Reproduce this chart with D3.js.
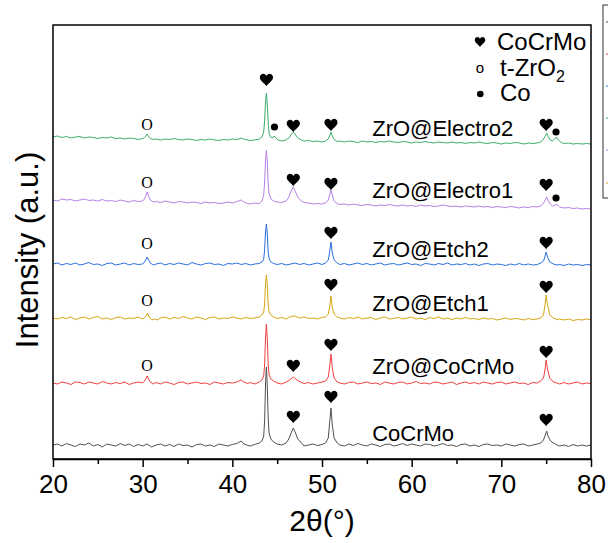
<!DOCTYPE html>
<html>
<head>
<meta charset="utf-8">
<script src="https://cdn.jsdelivr.net/npm/d3@7"></script>
<style>
  body { margin: 0; background: #fff; }
  svg { display: block; font-family: "Liberation Sans", Arial, sans-serif; }
</style>
</head>
<body>
<svg id="chart" width="608" height="543"></svg>
<script>
// XRD patterns, stacked with a vertical offset per sample

const THETA_TICKS = [20, 30, 40, 50, 60, 70, 80];
const MINOR_TICKS = [25, 35, 45, 55, 65, 75];
const SAMPLES = ["CoCrMo", "ZrO@CoCrMo", "ZrO@Etch1", "ZrO@Etch2", "ZrO@Electro1", "ZrO@Electro2"];
const OFFSETS = [14, 76, 141, 195, 259, 322];   // stacking offset (a.u.)

// [2θ, intensity above the sample's offset]
const CoCrMo = [[20,0],[20.5,1],[21,-1],[21.5,1.5],[22,0],[22.5,-1.5],[23,1],[23.5,0],[24,2],[24.5,-1],[25,0.5],[25.5,-2],[26,1],[26.5,0],[27,-1],[27.5,1.5],[28,-0.5],[28.5,1],[29,-1.5],[29.5,0.5],[30,-1],[30.5,1],[31,-2],[31.5,0],[32,1],[32.5,-1],[33,0.5],[33.5,-1.5],[34,1],[34.5,-0.5],[35,0],[35.5,-2],[36,0.5],[36.5,1],[37,-1],[37.5,0],[38,-1.5],[38.5,1],[39,0],[39.5,-1],[40,0.5],[40.5,1.5],[41,4],[41.3,1],[41.6,0],[42,-1],[42.5,0.5],[43,2],[43.3,4],[43.5,9],[43.6,24],[43.7,60],[43.8,78],[43.9,58],[44,26],[44.1,12],[44.3,6],[44.6,3],[45,1],[45.5,0],[46,2],[46.3,6],[46.6,13],[46.8,17],[47,13],[47.3,6],[47.7,2],[48,-1],[48.5,0],[49,1],[49.5,-0.5],[50,0.5],[50.4,2],[50.7,7],[50.85,22],[51,37],[51.15,20],[51.35,7],[51.7,2],[52,0],[52.5,-1],[53,1],[53.5,-0.5],[54,1.5],[54.5,0],[55,-1],[55.5,1],[56,0],[56.5,-1.5],[57,0.5],[57.5,1],[58,-1],[58.5,0],[59,1.5],[59.5,-0.5],[60,1],[60.5,0],[61,-1],[61.5,1],[62,0.5],[62.5,-1],[63,0],[63.5,1.5],[64,-0.5],[64.5,0],[65,-1.5],[65.5,0.5],[66,1],[66.5,-1],[67,0],[67.5,-1.5],[68,0.5],[68.5,1],[69,-0.5],[69.5,0],[70,-1],[70.5,1],[71,0],[71.5,-1],[72,0.5],[72.5,1],[73,-1],[73.5,0],[74,1],[74.4,2],[74.7,5],[74.9,10],[75.05,14],[75.2,9],[75.5,4],[76,1],[76.5,-1],[77,0],[77.5,-1.5],[78,0.5],[78.5,-1],[79,0],[79.5,-1],[80,0]];

const ZrO_CoCrMo = [[20,0],[20.5,-1],[21,1],[21.5,0],[22,-1.5],[22.5,1],[23,0.5],[23.5,-1],[24,1],[24.5,0],[25,-1],[25.5,1.5],[26,0],[26.5,-1],[27,0.5],[27.5,-0.5],[28,1],[28.5,-1.5],[29,0],[29.5,1],[30,0],[30.2,2],[30.35,4],[30.5,7],[30.65,4],[30.85,1],[31.2,-1],[31.5,0.5],[32,-1],[32.5,1],[33,0],[33.5,-1.5],[34,0.5],[34.5,1],[35,-1],[35.5,0],[36,1],[36.5,-0.5],[37,0],[37.5,-1.5],[38,1],[38.5,0],[39,-1],[39.5,0.5],[40,0],[40.5,1],[41,3],[41.3,1],[41.7,-0.5],[42,0.5],[42.5,-1],[43,1],[43.3,3],[43.5,7],[43.6,18],[43.7,45],[43.8,59],[43.9,44],[44,18],[44.1,8],[44.3,4],[44.6,2],[45,0],[45.5,-1],[46,1],[46.4,3],[46.8,6],[47.2,3],[47.6,1],[48,-0.5],[48.5,0.5],[49,-1],[49.5,0],[50,1],[50.4,2],[50.7,6],[50.85,16],[51,29],[51.15,15],[51.35,5],[51.7,1],[52,0],[52.5,-1],[53,0.5],[53.5,1],[54,-1],[54.5,0],[55,1],[55.5,-0.5],[56,0],[56.5,-1.5],[57,1],[57.5,0],[58,-1],[58.5,0.5],[59,1],[59.5,-1],[60,0],[60.5,1.5],[61,-0.5],[61.5,0],[62,-1],[62.5,1],[63,0.5],[63.5,-1],[64,0],[64.5,1],[65,-1.5],[65.5,0],[66,1],[66.5,-0.5],[67,0.5],[67.5,-1],[68,1],[68.5,0],[69,-1],[69.5,0.5],[70,1],[70.5,-1],[71,0],[71.5,1],[72,-0.5],[72.5,0],[73,-1.5],[73.5,0.5],[74,0],[74.4,2],[74.7,5],[74.85,12],[75,23],[75.15,14],[75.4,5],[75.8,1],[76.2,0],[76.5,-1],[77,0.5],[77.5,-1],[78,0],[78.5,1],[79,-1],[79.5,0],[80,-0.5]];

const ZrO_Etch1 = [[20,0],[20.5,-1],[21,0.5],[21.5,-0.5],[22,1],[22.5,-1.5],[23,0],[23.5,1],[24,-1],[24.5,0.5],[25,1.5],[25.5,-1],[26,0],[26.5,-1.5],[27,0.5],[27.5,1],[28,-1],[28.5,0],[29,-0.5],[29.5,1],[30,-1],[30.3,1],[30.45,3],[30.55,5],[30.7,1],[31,-2],[31.3,-1],[31.6,-2],[32,0],[32.5,1],[33,-1],[33.5,0.5],[34,-0.5],[34.5,1.5],[35,0],[35.5,-1],[36,1],[36.5,0],[37,-1.5],[37.5,0.5],[38,1],[38.5,-1],[39,0],[39.5,-0.5],[40,1],[40.5,0],[41,-1],[41.5,0.5],[42,-0.5],[42.5,0],[43,1],[43.3,3],[43.5,6],[43.6,14],[43.7,34],[43.8,43],[43.9,32],[44,13],[44.1,6],[44.3,3],[44.6,1],[45,-0.5],[45.5,0.5],[46,-1],[46.5,1.5],[47,2],[47.5,0],[48,1],[48.5,-0.5],[49,0],[49.5,-1],[50,0.5],[50.4,1],[50.7,4],[50.85,11],[51,22],[51.15,10],[51.35,4],[51.7,1],[52,0],[52.5,-1],[53,0.5],[53.5,-0.5],[54,1],[54.5,-1],[55,0],[55.5,0.5],[56,-1.5],[56.5,0],[57,1],[57.5,-1],[58,-0.5],[58.5,0.5],[59,-1],[59.5,0],[60,1],[60.5,-1],[61,0],[61.5,-1.5],[62,0.5],[62.5,-0.5],[63,1],[63.5,-1],[64,0],[64.5,-1.5],[65,0],[65.5,-1],[66,0.5],[66.5,-1],[67,-0.5],[67.5,-1.5],[68,0],[68.5,-1],[69,-0.5],[69.5,-2],[70,-1],[70.5,0],[71,-1.5],[71.5,-0.5],[72,-1],[72.5,-2],[73,-0.5],[73.5,-1.5],[74,-1],[74.4,0],[74.7,3],[74.85,12],[75,23],[75.15,13],[75.4,3],[75.8,0],[76.2,-1.5],[76.5,-1],[77,-2],[77.5,-1],[78,-2.5],[78.5,-1.5],[79,-2],[79.5,-1],[80,-2]];

const ZrO_Etch2 = [[20,0],[20.5,1],[21,-1],[21.5,0.5],[22,-0.5],[22.5,1],[23,-1],[23.5,0],[24,1.5],[24.5,-0.5],[25,0],[25.5,-1.5],[26,0.5],[26.5,1],[27,-1],[27.5,0],[28,1],[28.5,-1],[29,0.5],[29.5,-0.5],[30,0],[30.2,2],[30.35,4],[30.5,7],[30.65,4],[30.85,1],[31.2,-1],[31.5,0],[32,1],[32.5,-1],[33,0.5],[33.5,-0.5],[34,1],[34.5,0],[35,-1],[35.5,1.5],[36,0],[36.5,-1],[37,0.5],[37.5,1],[38,-0.5],[38.5,0],[39,-1.5],[39.5,0.5],[40,0],[40.5,1],[41,-0.5],[41.5,0.5],[42,-1],[42.5,0],[43,0.5],[43.3,2],[43.5,5],[43.6,14],[43.7,32],[43.8,40],[43.9,30],[44,12],[44.1,5],[44.3,2],[44.6,0.5],[45,-0.5],[45.5,0.5],[46,-1],[46.5,0],[47,1],[47.5,-0.5],[48,0.5],[48.5,-1],[49,0],[49.5,1],[50,-0.5],[50.4,1],[50.7,4],[50.85,12],[51,22],[51.15,11],[51.35,4],[51.7,1],[52,-0.5],[52.5,0.5],[53,-1],[53.5,0],[54,1],[54.5,-0.5],[55,0.5],[55.5,-1],[56,0],[56.5,1],[57,-1],[57.5,0],[58,0.5],[58.5,-1],[59,0],[59.5,1],[60,-0.5],[60.5,0],[61,-1.5],[61.5,0.5],[62,0],[62.5,-1],[63,0.5],[63.5,-0.5],[64,1],[64.5,-1],[65,0],[65.5,-0.5],[66,0.5],[66.5,-1],[67,0],[67.5,-1.5],[68,0],[68.5,0.5],[69,-1],[69.5,0],[70,-0.5],[70.5,-1.5],[71,0],[71.5,-1],[72,0.5],[72.5,-1],[73,0],[73.5,-1],[74,-0.5],[74.4,1],[74.7,3],[74.85,7],[75,12],[75.15,7],[75.4,2],[75.8,0],[76.2,-1],[76.5,-0.5],[77,-1.5],[77.5,0],[78,-1],[78.5,-0.5],[79,-1.5],[79.5,-0.5],[80,-1]];

const ZrO_Electro1 = [[20,0],[20.5,-1],[21,1],[21.5,0],[22,0.5],[22.5,-1],[23,0],[23.5,1],[24,-0.5],[24.5,0],[25,-1],[25.5,0.5],[26,-1],[26.5,-0.5],[27,-1.5],[27.5,0],[28,-1],[28.5,-2],[29,-0.5],[29.5,-1.5],[30,-1],[30.2,1],[30.35,4],[30.5,8],[30.65,4],[30.85,0],[31.2,-2],[31.5,-1.5],[32,-2.5],[32.5,-1],[33,-2],[33.5,-3],[34,-1.5],[34.5,-2],[35,-3],[35.5,-2],[36,-2.5],[36.5,-3.5],[37,-2],[37.5,-3],[38,-2.5],[38.5,-3.5],[39,-3],[39.5,-2],[40,-3],[40.5,-1.5],[41,0],[41.3,-2],[41.7,-3.5],[42,-4],[42.5,-3],[43,-3.5],[43.3,-1],[43.5,5],[43.6,18],[43.7,40],[43.8,50],[43.9,38],[44,16],[44.1,6],[44.3,1],[44.6,-1],[45,-2],[45.5,-2.5],[46,-1],[46.3,3],[46.6,10],[46.8,13],[47,9],[47.3,3],[47.7,-1],[48,-2.5],[48.5,-3],[49,-4],[49.5,-3.5],[50,-4],[50.4,-3],[50.7,0],[50.85,5],[51,10],[51.15,5],[51.35,-1],[51.7,-3.5],[52,-4.5],[52.5,-4],[53,-5],[53.5,-4],[54,-5],[54.5,-5.5],[55,-4.5],[55.5,-5],[56,-6],[56.5,-5],[57,-5.5],[57.5,-4.5],[58,-5.5],[58.5,-6],[59,-5],[59.5,-6],[60,-5.5],[60.5,-6.5],[61,-5],[61.5,-6],[62,-5.5],[62.5,-6.5],[63,-6],[63.5,-5],[64,-6],[64.5,-6.5],[65,-6],[65.5,-7],[66,-6],[66.5,-6.5],[67,-7],[67.5,-6],[68,-7],[68.5,-6.5],[69,-7.5],[69.5,-6.5],[70,-7],[70.5,-7.5],[71,-6.5],[71.5,-7],[72,-8],[72.5,-7],[73,-7.5],[73.5,-6.5],[74,-7],[74.4,-6],[74.7,-3],[74.9,0],[75.05,3],[75.2,0],[75.45,-4],[75.7,-6],[76,-5],[76.2,-4.5],[76.5,-7],[77,-8],[77.5,-7.5],[78,-8.5],[78.5,-8],[79,-9],[79.5,-8.5],[80,-9]];

const ZrO_Electro2 = [[20,0],[20.5,1],[21,-0.5],[21.5,0.5],[22,-1],[22.5,0],[23,0.5],[23.5,-1],[24,0],[24.5,-0.5],[25,-1.5],[25.5,-0.5],[26,-1],[26.5,0],[27,-1.5],[27.5,-1],[28,-2],[28.5,-1],[29,-1.5],[29.5,-2.5],[30,-1.5],[30.2,-0.5],[30.35,1],[30.5,3],[30.65,0.5],[30.85,-1.5],[31.2,-2.5],[31.5,-2],[32,-3],[32.5,-2],[33,-2.5],[33.5,-1.5],[34,-2.5],[34.5,-3],[35,-2],[35.5,-2.5],[36,-3.5],[36.5,-2.5],[37,-3],[37.5,-2],[38,-3],[38.5,-3.5],[39,-2.5],[39.5,-3],[40,-2],[40.5,-2.5],[41,-1],[41.4,-2.5],[42,-3.5],[42.5,-3],[43,-2],[43.3,0],[43.5,5],[43.6,16],[43.7,35],[43.8,44],[43.9,33],[44,14],[44.1,4],[44.25,0],[44.45,-1],[44.65,1],[44.85,-1],[45.1,-3],[45.5,-4],[46,-3],[46.3,-1],[46.6,3],[46.8,5],[47,3],[47.3,-1],[47.7,-3],[48,-4],[48.5,-3.5],[49,-4.5],[49.5,-4],[50,-5],[50.4,-4],[50.7,-2],[50.85,1],[51,5],[51.15,1],[51.35,-2.5],[51.7,-4.5],[52,-4],[52.5,-5],[53,-4],[53.5,-4.5],[54,-5.5],[54.5,-4],[55,-5],[55.5,-4.5],[56,-5.5],[56.5,-4.5],[57,-5],[57.5,-4],[58,-5],[58.5,-5.5],[59,-4.5],[59.5,-5],[60,-6],[60.5,-5],[61,-5.5],[61.5,-4.5],[62,-5.5],[62.5,-6],[63,-5],[63.5,-5.5],[64,-6],[64.5,-5],[65,-6],[65.5,-5.5],[66,-6.5],[66.5,-5.5],[67,-6],[67.5,-5],[68,-6],[68.5,-6.5],[69,-5.5],[69.5,-6],[70,-7],[70.5,-6],[71,-6.5],[71.5,-5.5],[72,-6],[72.5,-7],[73,-6],[73.5,-6.5],[74,-6],[74.4,-5],[74.7,-2],[74.9,1],[75.05,4],[75.2,1],[75.45,-3],[75.7,-4],[75.95,-2],[76.15,0],[76.35,-3],[76.7,-5.5],[77,-6.5],[77.5,-6],[78,-7],[78.5,-6.5],[79,-7],[79.5,-6.5],[80,-7]];

const PATTERNS = [CoCrMo, ZrO_CoCrMo, ZrO_Etch1, ZrO_Etch2, ZrO_Electro1, ZrO_Electro2];

// phase markers: [sample index, 2θ, level (a.u.), phase]
const MARKS = [
  [5, 43.8, 379, "CoCrMo"], [5, 30.5, 335, "ZrO2"], [5, 44.7, 332, "Co"], [5, 46.8, 333, "CoCrMo"],
  [5, 51.0, 334, "CoCrMo"], [5, 75.0, 334, "CoCrMo"], [5, 76.1, 327, "Co"],
  [4, 30.5, 277, "ZrO2"], [4, 46.8, 279, "CoCrMo"], [4, 51.0, 275, "CoCrMo"], [4, 75.0, 274, "CoCrMo"], [4, 76.1, 261, "Co"],
  [3, 30.5, 216, "ZrO2"], [3, 51.0, 226, "CoCrMo"], [3, 75.0, 216, "CoCrMo"],
  [2, 30.5, 159, "ZrO2"], [2, 51.0, 174, "CoCrMo"], [2, 75.0, 172, "CoCrMo"],
  [1, 30.5, 94, "ZrO2"], [1, 46.8, 93, "CoCrMo"], [1, 51.0, 114, "CoCrMo"], [1, 75.0, 107, "CoCrMo"],
  [0, 46.8, 42, "CoCrMo"], [0, 51.0, 62, "CoCrMo"], [0, 75.0, 39, "CoCrMo"]
];

// layout / style
const COLORS = ["#505050", "#ef3f3f", "#d6a514", "#2b6fdc", "#b67fe6", "#3cae6c"];
const LABEL_AT = 55.6;
const LABEL_LEVEL = [18, 84.7, 148.3, 202.3, 261, 323.5];
const M = { left: 53, right: 591, top: 25, bottom: 459 };

const svg = d3.select("#chart");
const x = d3.scaleLinear().domain([20, 80]).range([M.left, M.right]);
const y = d3.scaleLinear().domain([0, 434]).range([M.bottom, M.top]);

const HEART = "M0,6.2C-1.2,4.2-6.6,0.8-6.6,-2.4C-6.6,-5-4.7,-6.2-3.2,-6.2C-1.6,-6.2-0.4,-5-0,-3.9C0.4,-5 1.6,-6.2 3.2,-6.2C4.7,-6.2 6.6,-5 6.6,-2.4C6.6,0.8 1.2,4.2 0,6.2Z";

// traces
const line = d3.line();
PATTERNS.forEach((pts, i) => {
  svg.append("path")
    .attr("d", line.x(d => x(d[0])).y(d => y(OFFSETS[i] + d[1]))(pts))
    .attr("fill", "none")
    .attr("stroke", COLORS[i])
    .attr("stroke-width", 1)
    .attr("stroke-linejoin", "round");
});

// sample names
svg.append("g").selectAll("text")
  .data(SAMPLES).join("text")
  .attr("x", x(LABEL_AT))
  .attr("y", (d, i) => y(LABEL_LEVEL[i]))
  .attr("font-size", 22)
  .attr("fill", "#000")
  .text(d => d);

// phase markers
const mk = svg.append("g");
MARKS.forEach(([s, t, lvl, ph]) => {
  const px = x(t), py = y(lvl);
  if (ph === "CoCrMo") {
    mk.append("path").attr("d", HEART).attr("transform", `translate(${px},${py})`).attr("fill", "#000");
  } else if (ph === "Co") {
    mk.append("circle").attr("cx", px).attr("cy", py).attr("r", 3.6).attr("fill", "#000");
  } else {
    mk.append("text").attr("x", px).attr("y", py).attr("dy", "0.36em")
      .attr("text-anchor", "middle")
      .attr("font-family", '"Liberation Serif", "Times New Roman", serif')
      .attr("font-size", 16).text("O");
  }
});

// frame
svg.append("rect")
  .attr("x", M.left).attr("y", M.top)
  .attr("width", M.right - M.left).attr("height", M.bottom - M.top)
  .attr("fill", "none").attr("stroke", "#000").attr("stroke-width", 1.5);

// x axis
const ax = svg.append("g").attr("transform", `translate(0,${M.bottom})`)
  .call(d3.axisBottom(x).tickValues(THETA_TICKS).tickSize(8).tickSizeOuter(0).tickFormat(d3.format("d")));
ax.select(".domain").attr("stroke-width", 1.5);
ax.selectAll(".tick line").attr("stroke-width", 1.5);
ax.selectAll("text").attr("font-size", 26).attr("font-family", '"Liberation Sans", Arial, sans-serif')
  .attr("fill", "#000").attr("y", 34).attr("dy", null);

const axm = svg.append("g").attr("transform", `translate(0,${M.bottom})`)
  .call(d3.axisBottom(x).tickValues(MINOR_TICKS).tickSize(5).tickSizeOuter(0).tickFormat(""));
axm.select(".domain").remove();
axm.selectAll(".tick line").attr("stroke-width", 1.5);

svg.append("text")
  .attr("x", (M.left + M.right) / 2).attr("y", 531)
  .attr("text-anchor", "middle").attr("font-size", 30)
  .text("2θ(°)");

svg.append("text")
  .attr("transform", `translate(38,${(M.top + M.bottom) / 2 + 8}) rotate(-90)`)
  .attr("text-anchor", "middle").attr("font-size", 31)
  .text("Intensity (a.u.)");

// phase legend
const lg = svg.append("g");
lg.append("path").attr("d", HEART).attr("transform", "translate(480,42) scale(0.8)").attr("fill", "#000");
lg.append("text").attr("x", 497).attr("y", 49.5).attr("font-size", 24).text("CoCrMo");
lg.append("text").attr("x", 480).attr("y", 67.5).attr("dy", "0.35em").attr("text-anchor", "middle")
  .attr("font-size", 15).text("o");
const tz = lg.append("text").attr("x", 500).attr("y", 76).attr("font-size", 24);
tz.append("tspan").text("t-ZrO");
tz.append("tspan").attr("font-size", 16).attr("dy", 6).text("2");
lg.append("circle").attr("cx", 480.3).attr("cy", 94).attr("r", 3.3).attr("fill", "#000");
lg.append("text").attr("x", 500).attr("y", 100.5).attr("font-size", 24).text("Co");

// sample legend box, clipped by the right edge
const side = svg.append("g");
side.append("rect").attr("x", 603).attr("y", 5).attr("width", 30).attr("height", 193)
  .attr("fill", "none").attr("stroke", "#333").attr("stroke-width", 1);
const SIDE_ORDER = [0, 1, 3, 5, 4, 2];
const SIDE_Y = [22, 54, 86, 118, 150, 183];
SIDE_ORDER.forEach((ci, k) => {
  side.append("line").attr("x1", 606).attr("x2", 612)
    .attr("y1", SIDE_Y[k]).attr("y2", SIDE_Y[k])
    .attr("stroke", COLORS[ci]).attr("stroke-width", 1);
});
</script>
</body>
</html>
